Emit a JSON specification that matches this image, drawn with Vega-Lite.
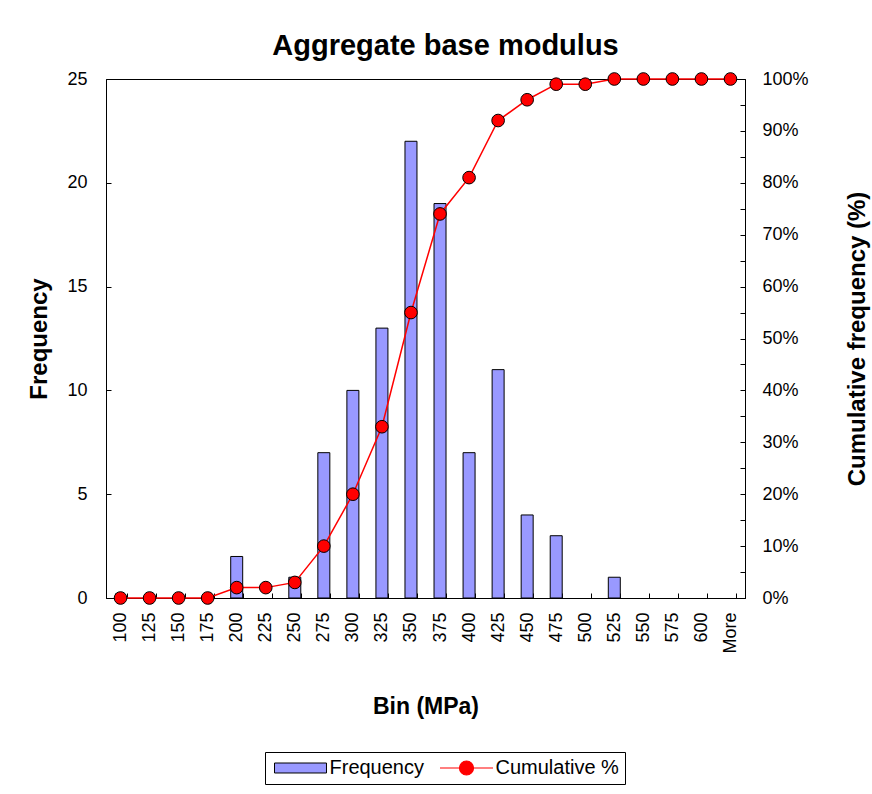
{
  "$schema": "https://vega.github.io/schema/vega-lite/v6.json",
  "width": 639,
  "height": 519,
  "autosize": {"type": "none"},
  "padding": {"left": 106, "top": 79, "right": 127, "bottom": 196},
  "background": "white",
  "title": {"text": "Aggregate base modulus", "font": "Liberation Sans", "fontSize": 29, "fontWeight": "bold", "color": "black", "offset": 9, "dx": 20},
  "data": {"values": [
    {"bin": "100", "freq": 0, "cum": 0},
    {"bin": "125", "freq": 0, "cum": 0},
    {"bin": "150", "freq": 0, "cum": 0},
    {"bin": "175", "freq": 0, "cum": 0},
    {"bin": "200", "freq": 2, "cum": 0.02},
    {"bin": "225", "freq": 0, "cum": 0.02},
    {"bin": "250", "freq": 1, "cum": 0.03},
    {"bin": "275", "freq": 7, "cum": 0.10},
    {"bin": "300", "freq": 10, "cum": 0.20},
    {"bin": "325", "freq": 13, "cum": 0.33},
    {"bin": "350", "freq": 22, "cum": 0.55},
    {"bin": "375", "freq": 19, "cum": 0.74},
    {"bin": "400", "freq": 7, "cum": 0.81},
    {"bin": "425", "freq": 11, "cum": 0.92},
    {"bin": "450", "freq": 4, "cum": 0.96},
    {"bin": "475", "freq": 3, "cum": 0.99},
    {"bin": "500", "freq": 0, "cum": 0.99},
    {"bin": "525", "freq": 1, "cum": 1},
    {"bin": "550", "freq": 0, "cum": 1},
    {"bin": "575", "freq": 0, "cum": 1},
    {"bin": "600", "freq": 0, "cum": 1},
    {"bin": "More", "freq": 0, "cum": 1}
  ]},
  "encoding": {
    "x": {
      "field": "bin", "type": "nominal", "sort": null,
      "scale": {
        "domain": ["100", "125", "150", "175", "200", "225", "250", "275", "300", "325", "350", "375", "400", "425", "450", "475", "500", "525", "550", "575", "600", "More"],
        "paddingInner": 0.587, "paddingOuter": 0.2935
      },
      "axis": {
        "title": "Bin (MPa)", "labelAngle": -90, "tickBand": "extent", "tickSize": -5,
        "labelPadding": 19, "titlePadding": 42, "labelFontSize": 18, "titleFontSize": 23
      }
    }
  },
  "layer": [
    {
      "transform": [{"filter": "datum.freq > 0"}],
      "mark": {"type": "bar", "stroke": "black", "strokeWidth": 1},
      "encoding": {
        "y": {
          "field": "freq", "type": "quantitative",
          "scale": {"domain": [0, 25], "nice": false},
          "axis": {"title": "Frequency", "values": [0, 5, 10, 15, 20, 25], "tickSize": -5, "labelPadding": 24, "titlePadding": 15, "labelFontSize": 18, "titleFontSize": 24}
        },
        "color": {
          "datum": "Frequency",
          "scale": {"domain": ["Frequency"], "range": ["#9999ff"]},
          "legend": {
            "title": null,
            "orient": "none",
            "legendX": 159,
            "legendY": 673,
            "direction": "horizontal",
            "strokeColor": "black",
            "padding": 6,
            "symbolSize": 196,
            "symbolOffset": 19.5,
            "symbolStrokeWidth": 1,
            "symbolType": "M-3.714,-0.714H3.714V0.714H-3.714Z",
            "labelFontSize": 20,
            "labelOffset": 19,
            "labelLimit": 600,
            "labelExpr": "datum.label + '\u2800\u2800\u2800\u2800\u2800\u2800\u2800\u2800\u2800\u2800\u2800\u2800\u2800'"
          }
        }
      }
    },
    {
      "layer": [
        {
          "mark": {"type": "line", "strokeWidth": 1.5},
          "encoding": {
            "stroke": {
              "datum": "Cumulative %",
              "scale": {"domain": ["Cumulative %"], "range": ["#ff0000"]},
              "legend": {
                "title": null,
                "orient": "none",
                "legendX": 331,
                "legendY": 679,
                "direction": "horizontal",
                "padding": 0,
                "symbolSize": 196,
                "symbolOffset": 19.5,
                "symbolStrokeWidth": 1.2,
                "symbolFillColor": "#ff0000",
                "symbolType": "M-3.786,0H-1M1,0H3.786M1,0A1,1 0 1,1 -1,0A1,1 0 1,1 1,0Z",
                "labelFontSize": 20,
                "labelOffset": 19
              }
            }
          }
        },
        {
          "mark": {"type": "point", "shape": "circle", "filled": true, "fill": "#ff0000", "stroke": "black", "strokeWidth": 1, "size": 160, "opacity": 1},
          "encoding": {}
        }
      ],
      "encoding": {
        "y": {
          "field": "cum", "type": "quantitative",
          "scale": {"domain": [0, 1], "nice": false},
          "axis": {
            "orient": "right", "title": "Cumulative frequency (%)", "format": ".0%",
            "values": [0, 0.05, 0.1, 0.15, 0.2, 0.25, 0.3, 0.35, 0.4, 0.45, 0.5, 0.55, 0.6, 0.65, 0.7, 0.75, 0.8, 0.85, 0.9, 0.95, 1],
            "labelExpr": "round(datum.value * 100) % 10 === 0 ? datum.label : ''",
            "tickSize": -5, "labelPadding": 22, "titlePadding": 61, "titleAngle": 270,
            "labelFontSize": 18, "titleFontSize": 24
          }
        }
      }
    }
  ],
  "resolve": {"scale": {"y": "independent"}},
  "config": {
    "font": "Liberation Sans",
    "view": {"stroke": "black", "strokeWidth": 1},
    "axis": {
      "grid": false,
      "domainColor": "black",
      "tickColor": "black",
      "labelColor": "black",
      "titleColor": "black",
      "labelFont": "Liberation Sans",
      "titleFont": "Liberation Sans",
      "titleFontWeight": "bold"
    },
    "legend": {"labelFont": "Liberation Sans", "labelColor": "black", "titleFont": "Liberation Sans"}
  }
}
